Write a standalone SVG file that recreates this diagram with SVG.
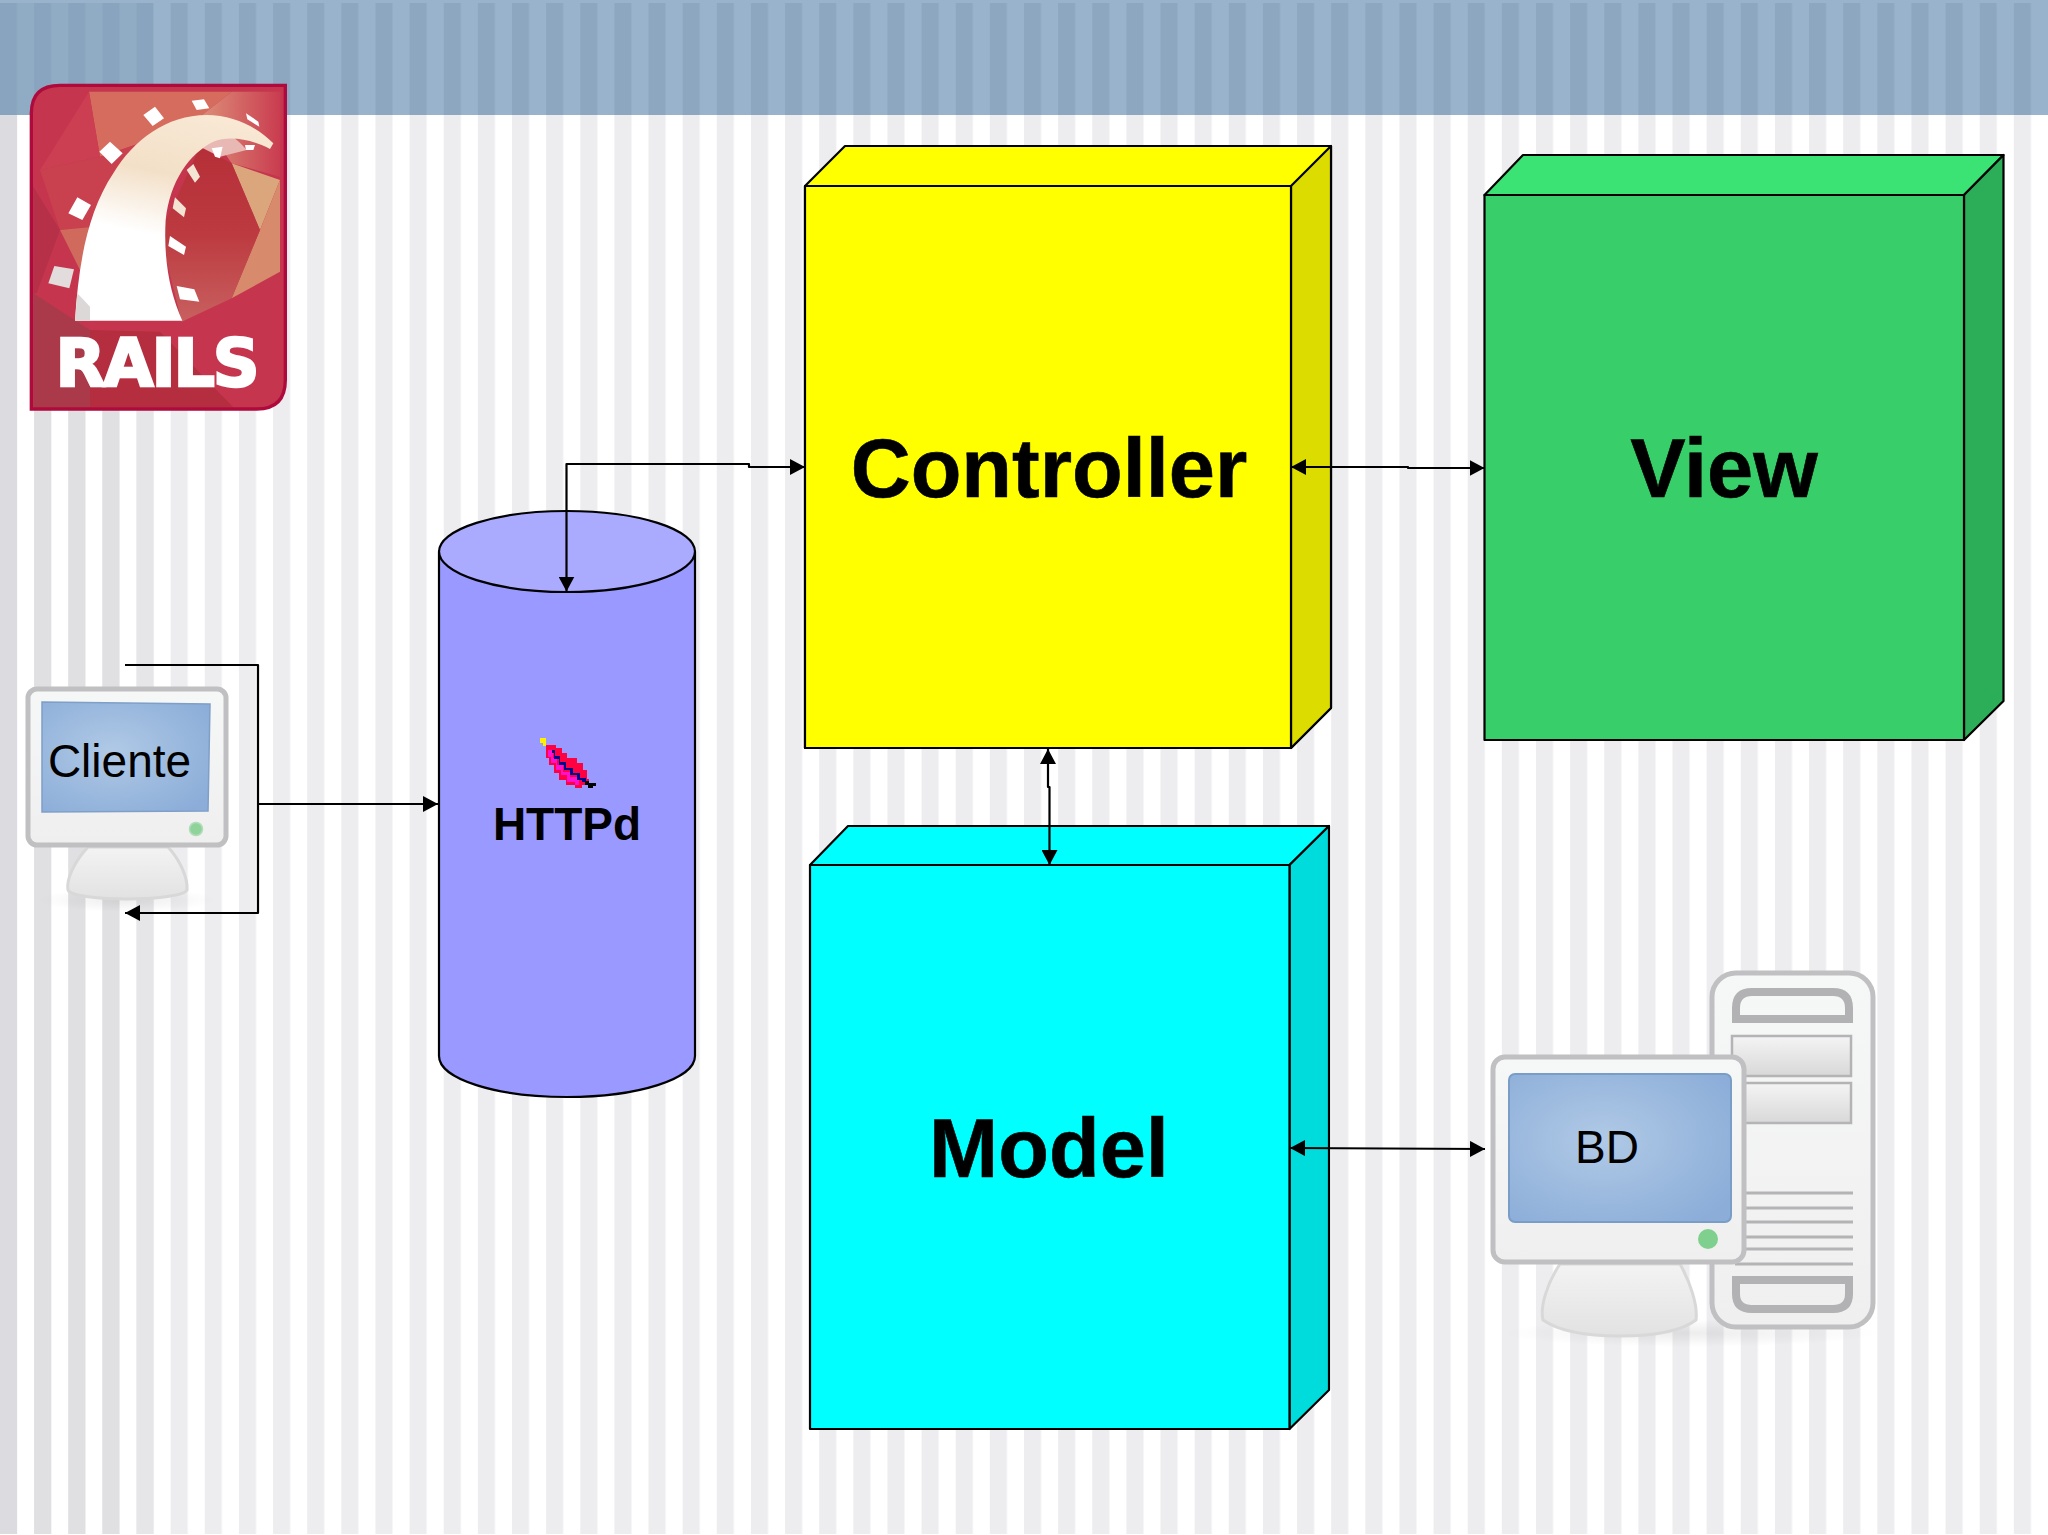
<svg xmlns="http://www.w3.org/2000/svg" width="2048" height="1535" viewBox="0 0 2048 1535">
<style>
.edge{fill:none;stroke:#000;stroke-width:2.2;stroke-linejoin:round}
.box{stroke:#000;stroke-width:2.2;stroke-linejoin:round}
.big{font-family:"Liberation Sans",Arial,sans-serif;font-weight:700;font-size:83px;fill:#000;stroke:#000;stroke-width:.6;text-anchor:middle}
.mid{font-family:"Liberation Sans",Arial,sans-serif;font-weight:700;font-size:46px;fill:#000;text-anchor:middle}
.reg{font-family:"Liberation Sans",Arial,sans-serif;font-size:46px;fill:#000;text-anchor:middle}
.case{fill:url(#plastic);stroke:#c0c0c2;stroke-width:5}
.stand{fill:url(#standG);stroke:#d8d8d8;stroke-width:3}
.vent{stroke:#b4b4b6;stroke-width:3}
.slot{fill:none;stroke:#b2b2b4;stroke-width:8}
.bay{fill:url(#bayG);stroke:#b4b4b6;stroke-width:2.5}
.sq{fill:#fff}
</style>
<defs>
<pattern id="lightStripes" width="34.133" height="20" patternUnits="userSpaceOnUse"><rect width="17.07" height="20" fill="#edecef"/></pattern>
<pattern id="bandStripes" width="34.133" height="20" patternUnits="userSpaceOnUse"><rect width="17.07" height="20" fill="#8da7c1"/></pattern>
<linearGradient id="plastic" x1="0" y1="0" x2="0" y2="1"><stop offset="0" stop-color="#f6f7f7"/><stop offset="1" stop-color="#efefef"/></linearGradient>
<linearGradient id="standG" x1="0" y1="0" x2="0" y2="1"><stop offset="0" stop-color="#f3f3f3"/><stop offset="1" stop-color="#e2e2e2"/></linearGradient>
<linearGradient id="bayG" x1="0" y1="0" x2="0" y2="1"><stop offset="0" stop-color="#f4f4f4"/><stop offset="1" stop-color="#d8d8d8"/></linearGradient>
<radialGradient id="screen" cx=".42" cy=".45" r=".7"><stop offset="0" stop-color="#b0c9e6"/><stop offset="1" stop-color="#8badd8"/></radialGradient>
<radialGradient id="shadow" cx=".5" cy=".5" r=".5"><stop offset="0" stop-color="#000" stop-opacity=".07"/><stop offset="1" stop-color="#000" stop-opacity="0"/></radialGradient>
<linearGradient id="railG" x1="0.6" y1="0" x2="0.4" y2="1"><stop offset="0" stop-color="#f8e8d4"/><stop offset=".3" stop-color="#f3e0c8"/><stop offset=".6" stop-color="#fff"/><stop offset="1" stop-color="#fff"/></linearGradient>
<linearGradient id="innerG" x1="0.5" y1="0" x2="0.5" y2="1"><stop offset="0" stop-color="#b62f38"/><stop offset=".5" stop-color="#bc3a40"/><stop offset="1" stop-color="#c8605f"/></linearGradient>
<linearGradient id="topRight" x1="1" y1="0" x2="0" y2="0"><stop offset="0" stop-color="#c93c50"/><stop offset="1" stop-color="#dd8f78"/></linearGradient>
<marker id="arrow" viewBox="0 0 15 16" refX="15" refY="8" markerWidth="15" markerHeight="16" markerUnits="userSpaceOnUse" orient="auto-start-reverse"><path d="M0 0L15 8L0 16Z" fill="#000"/></marker>
</defs>

<g id="background">
<rect width="2048" height="1535" fill="#fff"/>
<rect y="115" width="2048" height="1419" fill="url(#lightStripes)"/>
<rect y="115" width="17" height="1419" fill="#dcdce0"/>
<rect x="34.1" y="115" width="17" height="1419" fill="#e0e0e2"/>
<rect x="68.3" y="115" width="17" height="1419" fill="#e0e0e2"/>
<rect x="102.4" y="115" width="17" height="1419" fill="#e0e0e2"/>
<rect x="136.5" y="115" width="17" height="1419" fill="#e6e6e8"/>
<rect width="2048" height="115" fill="#9ab3cc"/>
<rect y="3" width="2048" height="112" fill="url(#bandStripes)"/>
<rect x="0" y="3" width="153" height="112" fill="#86a1ba" opacity=".45"/>
</g>

<g id="rails-logo">
<g transform="scale(.33333)">
<path d="M180 256H856V1140Q856 1227 770 1227H94V340Q94 256 180 256Z" fill="#c5364e"/>
<path d="M267 275L695 275L600 350L470 395L420 430L300 470Z" fill="#d56c5e"/>
<path d="M695 275L842 275L840 530L695 490L600 350Z" fill="url(#topRight)"/>
<path d="M120 510L267 275L300 470Z" fill="#cc3f52"/>
<path d="M695 490L840 540L780 690Z" fill="#dca67c"/>
<path d="M780 690L840 540L840 815L695 895Z" fill="#d78a6c"/>
<path d="M600 440L695 490L780 690L695 895L545 965L480 700Z" fill="url(#innerG)"/>
<path d="M120 510L300 470L420 430L270 680L180 690Z" fill="#c9404f"/>
<path d="M180 690L280 680L240 810Z" fill="#cf6a5c"/>
<path d="M100 560L180 690L110 880L100 880Z" fill="#b63047"/>
<path d="M100 880L270 990L270 1222L100 1222Z" fill="#aa3a4a"/>
<path d="M270 990L480 995L700 1222L270 1222Z" fill="#b52e3f"/>
<path d="M600 350Q700 400 740 450L660 470L600 440Z" fill="#e8b8b4"/>
<path d="M225 962C235 800 260 640 340 520C400 420 500 345 620 345C700 345 770 380 820 430L810 447C760 420 690 405 640 425C570 460 510 540 497 660C490 780 510 880 547 962Z" fill="url(#railG)"/>
<path d="M225 962L232 880L270 920V962Z" fill="#dcd8d8"/>
<path class="sq" d="M430 345L465 320L492 355L458 378Z"/>
<path class="sq" d="M575 302L612 298L628 325L590 330Z"/>
<path class="sq" d="M738 340L775 365L778 380L742 358Z"/>
<path class="sq" d="M298 455L330 425L368 460L335 492Z"/>
<path class="sq" d="M205 640L232 592L273 615L247 660Z"/>
<path d="M163 798L222 808L208 865L145 850Z" fill="#e2dcdc"/>
<path d="M560 510L580 492L600 530L585 548Z" fill="#f4e4d4"/>
<path d="M525 592L558 625L552 652L518 625Z" fill="#f4e4d4"/>
<path class="sq" d="M510 708L558 740L552 765L505 738Z"/>
<path class="sq" d="M530 858L583 868L598 905L540 898Z"/>
<path class="sq" d="M635 445L668 440L660 475L645 470Z"/>
<path class="sq" d="M735 435L765 435L760 450L738 450Z"/>
<path d="M180 256H856V1140Q856 1227 770 1227H94V340Q94 256 180 256Z" fill="none" stroke="#ae0a3d" stroke-width="10"/>
</g>
<text x="157.5" y="386" font-family="'DejaVu Sans',sans-serif" font-weight="700" font-size="65" fill="#fff" stroke="#fff" stroke-width="2.5" text-anchor="middle" textLength="204" lengthAdjust="spacing">RAILS</text>
</g>

<g id="cliente">
<ellipse cx="127" cy="900" rx="90" ry="12" fill="url(#shadow)"/>
<path class="stand" d="M88 847C74 862 66 880 68 890C70 896 100 899 127 899C154 899 184 896 187 890C188 878 180 860 168 847Z"/>
<rect class="case" x="28" y="689" width="198" height="156" rx="9"/>
<path d="M42 702L210 704L208 811L42 812Z" fill="url(#screen)" stroke="#7f9fc8" stroke-width="1.5"/>
<circle cx="196" cy="829" r="6.5" fill="#8fd39a" stroke="#b0dcb6" stroke-width="1.5"/>
<text class="reg" x="119.500" y="777">Cliente</text>
</g>

<g id="httpd">
<path class="box" d="M439 552V1056C439 1079 496 1097 567 1097C638 1097 695 1079 695 1056V552Z" fill="#9999ff"/>
<ellipse class="box" cx="567" cy="551.500" rx="128" ry="40.500" fill="#aaaaff"/>
<g transform="translate(480 700) scale(.33333)" shape-rendering="crispEdges">
<path d="M181 115H197V138H188V130H181Z" fill="#ffef00"/>
<path d="M198 135H228V145H245V160H262V175H290V190H308V210H322V238H328V255H305V264H285V255H258V240H238V220H222V195H208V175H198Z" fill="#ff0040"/>
<path d="M205 150H218V175H232V195H250V215H270V232H298V254H285V245H262V226H244V210H228V190H214V172H205Z" fill="#ff10d0"/>
<path d="M216 150H224V168H240V185H258V203H280V220H300V235H318V245H305V240H290V226H270V210H252V194H236V176H222V160H216Z" fill="#000090"/>
<path d="M314 243H326V250H348V258H340V263H325V255H314Z" fill="#000"/>
</g>
<text class="mid" x="567" y="840">HTTPd</text>
</g>

<g id="controller">
<path class="box" d="M805 186L845 146H1331V708L1291 748H805Z" fill="#ffff00"/>
<path class="box" d="M1291 186L1331 146V708L1291 748Z" fill="#dcdc00"/>
<path class="box" d="M805 186H1291V748H805Z" fill="#ffff00"/>
<text class="big" x="1049" y="497">Controller</text>
</g>

<g id="view">
<path class="box" d="M1484.500 195L1523 155H2003.500L1964 195Z" fill="#3ae374"/>
<path class="box" d="M1964 195L2003.500 155V701L1964 740Z" fill="#2cad58"/>
<path class="box" d="M1484.500 195H1964V740H1484.500Z" fill="#38cf6b"/>
<text class="big" x="1724" y="497">View</text>
</g>

<g id="model">
<path class="box" d="M810 865L848 826H1329L1289.500 865Z" fill="#00ffff"/>
<path class="box" d="M1289.500 865L1329 826V1390L1289.500 1429Z" fill="#00dcdc"/>
<path class="box" d="M810 865H1289.500V1429H810Z" fill="#00ffff"/>
<text class="big" x="1049" y="1177">Model</text>
</g>

<g id="bd">
<ellipse cx="1690" cy="1333" rx="190" ry="14" fill="url(#shadow)"/>
<rect class="case" x="1712" y="973" width="161" height="354" rx="24" stroke-width="7"/>
<path class="slot" d="M1736 1019V1008Q1736 992 1752 992H1833Q1849 992 1849 1008V1019Z"/>
<path class="slot" d="M1736 1280V1294Q1736 1309 1752 1309H1833Q1849 1309 1849 1294V1280Z"/>
<rect class="bay" x="1732" y="1036" width="119" height="40"/>
<rect class="bay" x="1732" y="1083" width="119" height="40"/>
<path class="vent" d="M1745 1193H1853M1745 1208H1853M1745 1222H1853M1745 1237H1853M1745 1249H1853M1735 1264H1853"/>
<path class="stand" d="M1560 1264C1546 1285 1540 1308 1543 1320C1560 1332 1590 1336 1620 1336C1650 1336 1680 1332 1696 1320C1698 1305 1690 1282 1680 1264Z"/>
<rect class="case" x="1493" y="1057" width="251" height="205" rx="12" stroke-width="6"/>
<rect x="1509" y="1074" width="222" height="148" rx="6" fill="url(#screen)" stroke="#7a9dc8" stroke-width="2"/>
<circle cx="1708" cy="1239" r="10" fill="#7fd08e"/>
<text class="reg" x="1607" y="1163">BD</text>
</g>

<g id="connectors">
<path class="edge" marker-end="url(#arrow)" d="M258 804H438"/>
<path class="edge" marker-end="url(#arrow)" d="M125 665H258V913H125"/>
<path class="edge" marker-start="url(#arrow)" marker-end="url(#arrow)" d="M566.500 591.500V464H749V467H805"/>
<path class="edge" marker-start="url(#arrow)" marker-end="url(#arrow)" d="M1291 467H1408V468H1484.500"/>
<path class="edge" marker-start="url(#arrow)" marker-end="url(#arrow)" d="M1048 749V787H1049.500V865"/>
<path class="edge" marker-start="url(#arrow)" marker-end="url(#arrow)" d="M1290 1148L1485 1149"/>
</g>
</svg>
